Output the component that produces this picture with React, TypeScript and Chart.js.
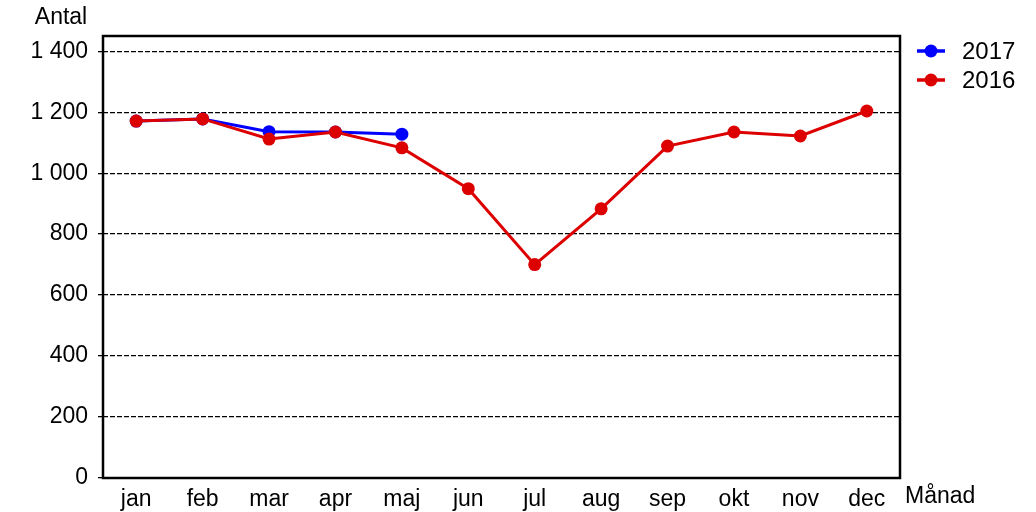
import { useEffect, useRef } from "react"
import { Chart, registerables } from "chart.js"
import type { Plugin } from "chart.js"

Chart.register(...registerables)

const months = ["jan", "feb", "mar", "apr", "maj", "jun", "jul", "aug", "sep", "okt", "nov", "dec"]
const values2017 = [1171, 1178, 1136, 1135, 1128]
const values2016 = [1171, 1178, 1112, 1135, 1083, 949, 700, 883, 1089, 1135, 1122, 1204]
const yTickValues = [0, 200, 400, 600, 800, 1000, 1200, 1400]

const FONT = "Arial, 'Liberation Sans', sans-serif"

const formatNumber = (v: number) => String(v).replace(/\B(?=(\d{3})+(?!\d))/g, " ")

// frame around the plot, axis titles and a legend with line + dot markers
const decorations: Plugin<"line"> = {
  id: "decorations",
  afterDraw(chart) {
    const { ctx, chartArea } = chart
    ctx.save()
    ctx.strokeStyle = "#000"
    ctx.lineWidth = 2.5
    ctx.strokeRect(chartArea.left, chartArea.top, chartArea.right - chartArea.left, chartArea.bottom - chartArea.top)

    ctx.fillStyle = "#000"
    ctx.font = `23px ${FONT}`
    ctx.textBaseline = "middle"
    ctx.textAlign = "center"
    ctx.fillText("Antal", 61, 18)
    ctx.textAlign = "left"
    ctx.fillText("Månad", 905, 497)

    ctx.font = `24px ${FONT}`
    chart.data.datasets.forEach((ds, i) => {
      const y = 51 + i * 29
      const color = ds.borderColor as string
      ctx.strokeStyle = color
      ctx.lineWidth = 3.5
      ctx.beginPath()
      ctx.moveTo(917, y)
      ctx.lineTo(945, y)
      ctx.stroke()
      ctx.fillStyle = color
      ctx.beginPath()
      ctx.arc(931, y, 6.5, 0, Math.PI * 2)
      ctx.fill()
      ctx.fillStyle = "#000"
      ctx.fillText(String(ds.label), 962, y + 1)
    })
    ctx.restore()
  },
}

export default function App() {
  const chartRef = useRef<HTMLCanvasElement>(null)
  const chartInstance = useRef<Chart | null>(null)

  useEffect(() => {
    if (!chartRef.current) return
    if (chartInstance.current) chartInstance.current.destroy()

    chartInstance.current = new Chart(chartRef.current, {
      type: "line",
      data: {
        labels: months,
        datasets: [
          {
            label: "2017",
            data: values2017,
            borderColor: "#0000ff",
            backgroundColor: "#0000ff",
            borderWidth: 3,
            pointRadius: 6.5,
            pointBorderWidth: 0,
            order: 1,
          },
          {
            label: "2016",
            data: values2016,
            borderColor: "#dd0000",
            backgroundColor: "#dd0000",
            borderWidth: 3,
            pointRadius: 6.5,
            pointBorderWidth: 0,
            order: 0,
          },
        ],
      },
      options: {
        animation: false,
        responsive: true,
        maintainAspectRatio: false,
        layout: { padding: { left: 0, top: 36, right: 136, bottom: 0 } },
        scales: {
          x: {
            offset: true,
            grid: { display: false },
            border: { display: false },
            ticks: { color: "#000", font: { family: FONT, size: 23 }, padding: 0, maxRotation: 0 },
            afterFit: (scale) => {
              scale.height = 34
            },
          },
          y: {
            min: 0,
            max: 1450,
            afterBuildTicks: (scale) => {
              scale.ticks = yTickValues.map((value) => ({ value }))
            },
            grid: {
              color: "#000",
              lineWidth: 1.3,
              tickBorderDash: [],
              tickLength: 5,
              tickColor: "#000",
            },
            border: { display: false, dash: [5, 2] },
            ticks: {
              color: "#000",
              font: { family: FONT, size: 23 },
              padding: 10,
              callback: (v) => formatNumber(Number(v)),
            },
            afterFit: (scale) => {
              scale.width = 103
            },
          },
        },
        plugins: {
          legend: { display: false },
          tooltip: { enabled: false },
        },
      },
      plugins: [decorations],
    })

    return () => {
      if (chartInstance.current) {
        chartInstance.current.destroy()
        chartInstance.current = null
      }
    }
  }, [])

  return (
    <div style={{ position: "fixed", left: 0, top: 0, width: 1036, height: 512, background: "#fff" }}>
      <canvas ref={chartRef} />
    </div>
  )
}
